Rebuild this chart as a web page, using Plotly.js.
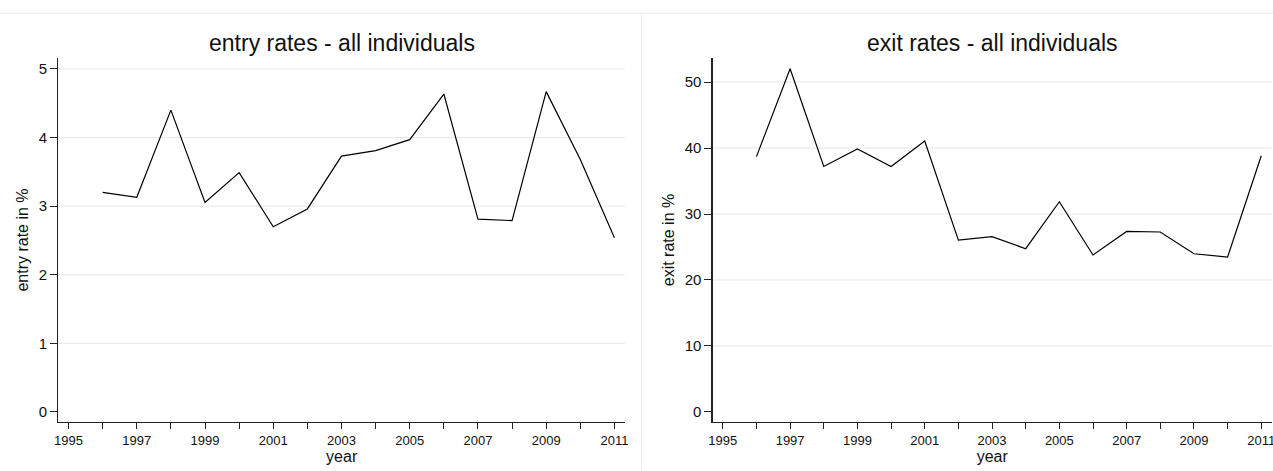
<!DOCTYPE html>
<html>
<head>
<meta charset="utf-8">
<script src="https://cdn.plot.ly/plotly-3.0.1.min.js"></script>
<style>
  html, body { margin: 0; padding: 0; background: #fff; }
  #chart { width: 1273px; height: 471px; }
</style>
</head>
<body>
<div id="chart"></div>
<script>
// ---- data ----
const years = [1996, 1997, 1998, 1999, 2000, 2001, 2002, 2003, 2004, 2005, 2006, 2007, 2008, 2009, 2010, 2011];
const entryRate = [3.20, 3.13, 4.40, 3.055, 3.49, 2.70, 2.96, 3.73, 3.81, 3.97, 4.635, 2.81, 2.79, 4.67, 3.68, 2.54];
const exitRate = [38.7, 52.0, 37.2, 39.85, 37.2, 41.06, 26.03, 26.56, 24.74, 31.86, 23.79, 27.36, 27.27, 23.98, 23.48, 38.83];
const xTickVals = [1995, 1997, 1999, 2001, 2003, 2005, 2007, 2009, 2011];
const xTickText = ["1995", "1997", "1999", "2001", "2003", "2005", "2007", "2009", "2011"];
const entryTicks = [0, 1, 2, 3, 4, 5];
const exitTicks = [0, 10, 20, 30, 40, 50];
const titles = ["entry rates - all individuals", "exit rates - all individuals"];
const yTitles = ["entry rate in %", "exit rate in %"];
const xTitle = "year";

// ---- layout constants ----
const W = 1273, H = 471;
const plotTop = 58.3, plotBottom = 422.3;
const FONT = "Liberation Sans, Arial, Helvetica, sans-serif";
const px2x = p => p / W;
const py2y = p => (plotBottom - p) / (plotBottom - plotTop);

function xAxis(domain, anchor) {
  return {
    domain: domain,
    anchor: anchor,
    range: [1994.70, 2011.31],
    tickmode: 'array',
    tickvals: xTickVals,
    ticktext: xTickText,
    ticks: 'outside', ticklen: 6, tickwidth: 1, tickcolor: '#222',
    minor: { dtick: 1, tick0: 1995, ticks: 'outside', ticklen: 6, tickwidth: 1, tickcolor: '#222', showgrid: false },
    showline: true, linecolor: '#222', linewidth: 1.3,
    showgrid: false, zeroline: false,
    ticklabeloverflow: 'allow',
    tickfont: { family: FONT, size: 13, color: '#111' },
    title: { text: xTitle, font: { family: FONT, size: 16, color: '#111' }, standoff: 0 },
    fixedrange: true
  };
}
function yAxis(range, ticks, title, anchor) {
  return {
    domain: [0, 1],
    anchor: anchor,
    range: range,
    tickmode: 'array',
    tickvals: ticks,
    ticks: 'outside', ticklen: 7, tickwidth: 1, tickcolor: '#222',
    showline: true, linecolor: '#222', linewidth: 1.3,
    showgrid: false,
    zeroline: false,
    ticklabeloverflow: 'allow',
    tickfont: { family: FONT, size: 15, color: '#111' },
    title: { text: title, font: { family: FONT, size: 16, color: '#111' }, standoff: 6 },
    fixedrange: true
  };
}

const lineStyle = { color: '#000', width: 1.2 };
const traces = [
  { x: years, y: entryRate, type: 'scatter', mode: 'lines', line: lineStyle, xaxis: 'x', yaxis: 'y', hoverinfo: 'x+y' },
  { x: years, y: exitRate, type: 'scatter', mode: 'lines', line: lineStyle, xaxis: 'x2', yaxis: 'y2', hoverinfo: 'x+y' }
];

const leftDomain = [px2x(58.3), px2x(625)];
const rightDomain = [px2x(712.7), px2x(1271.7)];

// gridlines (Stata style: none at zero), from the tick arrays
function gridShapes(ticks, domain, yref) {
  return ticks.filter(v => v !== 0).map(v => ({
    type: 'line', xref: 'paper', yref: yref,
    x0: domain[0], x1: domain[1], y0: v, y1: v,
    line: { color: '#e6e6e6', width: 1 }, layer: 'below'
  }));
}

const layout = {
  width: W, height: H,
  margin: { l: 0, r: 0, t: plotTop, b: H - plotBottom, pad: 0 },
  paper_bgcolor: '#fff', plot_bgcolor: 'rgba(0,0,0,0)',
  showlegend: false,
  xaxis: xAxis(leftDomain, 'y'),
  yaxis: yAxis([-0.146, 5.16], entryTicks, yTitles[0], 'x'),
  xaxis2: xAxis(rightDomain, 'y2'),
  yaxis2: yAxis([-1.52, 53.64], exitTicks, yTitles[1], 'x2'),
  annotations: [
    { text: titles[0], xref: 'paper', yref: 'paper', x: (leftDomain[0] + leftDomain[1]) / 2, y: py2y(43), xanchor: 'center', yanchor: 'middle', showarrow: false, font: { family: FONT, size: 23, color: '#111' } },
    { text: titles[1], xref: 'paper', yref: 'paper', x: (rightDomain[0] + rightDomain[1]) / 2, y: py2y(43), xanchor: 'center', yanchor: 'middle', showarrow: false, font: { family: FONT, size: 23, color: '#111' } }
  ],
  shapes: [
    ...gridShapes(entryTicks, leftDomain, 'y'),
    ...gridShapes(exitTicks, rightDomain, 'y2'),
    // faint panel borders
    { type: 'line', xref: 'paper', yref: 'paper', x0: 0, x1: 1, y0: py2y(13.5), y1: py2y(13.5), line: { color: '#ececec', width: 1 }, layer: 'below' },
    { type: 'line', xref: 'paper', yref: 'paper', x0: px2x(641.5), x1: px2x(641.5), y0: py2y(13.5), y1: py2y(471), line: { color: '#ececec', width: 1 }, layer: 'below' }
  ]
};

Plotly.newPlot('chart', traces, layout, { staticPlot: true, displayModeBar: false });
</script>
</body>
</html>
